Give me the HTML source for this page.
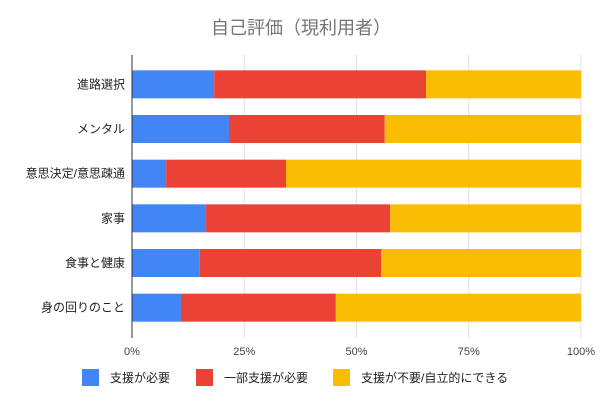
<!DOCTYPE html>
<html><head><meta charset="utf-8"><style>
body{margin:0;background:#fff;font-family:"Liberation Sans","Noto Sans CJK JP",sans-serif}
</style></head><body>
<svg id="c" width="602" height="407" xmlns="http://www.w3.org/2000/svg" style="font-family:'Liberation Sans','Noto Sans CJK JP',sans-serif">
<rect width="602" height="407" fill="#fff"/>
<text x="301" y="34" text-anchor="middle" font-size="18" fill="#757575">自己評価（現利用者）</text>
</svg>
<script>
const categories=["進路選択","メンタル","意思決定/意思疎通","家事","食事と健康","身の回りのこと"];
const needSupport=[18.3,21.6,7.6,16.5,15.1,10.9];
const partialSupport=[47.2,34.7,26.7,41.0,40.4,34.5];
const independent=[34.5,43.7,65.7,42.5,44.5,54.6];
const tickLabels=["0%","25%","50%","75%","100%"];
const tickValues=[0,25,50,75,100];
const seriesNames=["支援が必要","一部支援が必要","支援が不要/自立的にできる"];
const colors=["#4285f4","#ea4335","#fbbc04"];
const svg=document.getElementById('c');const NS="http://www.w3.org/2000/svg";
const x0=132,x1=581,plotTop=62,plotBot=330;
const xs=v=>x0+(x1-x0)*v/100;
const band=(plotBot-plotTop)/categories.length;
const ys=i=>plotTop+band*i+band/2;
function mk(t,a){const e=document.createElementNS(NS,t);for(const k in a)e.setAttribute(k,a[k]);svg.appendChild(e);return e;}
tickValues.forEach((v,i)=>{
 if(i>0){const g=mk('line',{x1:xs(v),x2:xs(v),y1:55,y2:338,stroke:'#e0e0e0'});
 
 }
 const t=mk('text',{x:xs(v),y:355,'text-anchor':'middle','font-size':11,fill:'#444'});t.textContent=tickLabels[i];
 
 
});
const series=[needSupport,partialSupport,independent];
categories.forEach((c,i)=>{
 let acc=0;
 series.forEach((s,j)=>{
  const r=mk('rect',{x:xs(acc),y:ys(i)-14,width:xs(acc+s[i])-xs(acc),height:28,fill:colors[j]});
  
  
  acc+=s[i];
 });
 const t=mk('text',{x:125,y:ys(i)+4,'text-anchor':'end','font-size':12,fill:'#222'});t.textContent=c;
 
 
});
const ax=mk('line',{x1:x0,x2:x0,y1:55,y2:338,stroke:'#333'});


const lx=[82,196,333];
seriesNames.forEach((n,j)=>{
 const r=mk('rect',{x:lx[j],y:369,width:17,height:17,fill:colors[j]});
 
 
 const t=mk('text',{x:lx[j]+28,y:382,'font-size':12,fill:'#222'});t.textContent=n;
 
 
});
</script>
</body></html>
